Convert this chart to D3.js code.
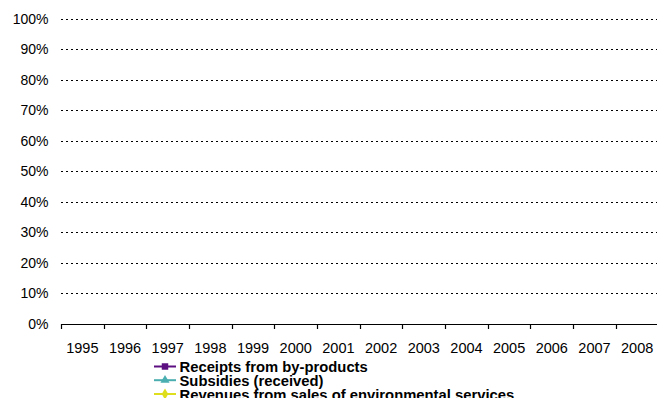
<!DOCTYPE html>
<html><head><meta charset="utf-8">
<script src="https://cdn.jsdelivr.net/npm/d3@7"></script>
<style>html,body{margin:0;padding:0;background:#fff;}svg{display:block;font-family:"Liberation Sans",Arial,sans-serif;}</style>
</head><body>
<svg id="c" width="657" height="398"></svg>
<script>
const years = ["1995","1996","1997","1998","1999","2000","2001","2002","2003","2004","2005","2006","2007","2008"];
const yTicks = [0,0.1,0.2,0.3,0.4,0.5,0.6,0.7,0.8,0.9,1.0];
const seriesNames = ["Receipts from by-products","Subsidies (received)","Revenues from sales of environmental services"];
const seriesColors = ["#5c0f80","#4aaeb0","#dede1e"];
const seriesMarkers = ["square","triangle","diamond"];
// No values are shown in the reference chart
const receipts = [null,null,null,null,null,null,null,null,null,null,null,null,null,null];
const subsidies = [null,null,null,null,null,null,null,null,null,null,null,null,null,null];
const revenues = [null,null,null,null,null,null,null,null,null,null,null,null,null,null];
const seriesValues = [receipts, subsidies, revenues];

(function(){
const svg = d3.select("#c");
const pL = 61, pR = 658.5, pT = 18.5, pB = 324;
const x = d3.scaleBand().domain(years).range([pL, pR]);
const y = d3.scaleLinear().domain([0,1]).range([pB, pT]);

// gridlines
svg.append("g").selectAll("line").data(yTicks.filter(d=>d>0)).join("line")
  .attr("x1", pL).attr("x2", 657)
  .attr("y1", d=>Math.round(y(d))+0.5).attr("y2", d=>Math.round(y(d))+0.5)
  .attr("stroke", "#000").attr("stroke-width", 1.2).attr("stroke-dasharray", "2,3");

// y labels
svg.append("g").selectAll("text").data(yTicks).join("text")
  .attr("x", 48.5).attr("y", d=>y(d)+5)
  .attr("text-anchor","end").attr("font-size", 14).attr("fill","#000")
  .text(d=>d3.format(".0%")(d));

// x axis
const xb = svg.append("g");
xb.append("line").attr("x1", pL).attr("x2", 657).attr("y1", pB+0.5).attr("y2", pB+0.5)
  .attr("stroke","#000").attr("stroke-width",1.2);
const bounds = years.map(d=>x(d));
xb.selectAll("line.t").data(bounds).join("line").attr("class","t")
  .attr("x1", d=>Math.round(d)+0.5).attr("x2", d=>Math.round(d)+0.5)
  .attr("y1", pB).attr("y2", pB+5).attr("stroke","#000").attr("stroke-width",1.2);
xb.selectAll("text").data(years).join("text")
  .attr("x", d=>x(d)+x.bandwidth()/2).attr("y", 352.5)
  .attr("text-anchor","middle").attr("font-size",14.5).attr("fill","#000").text(d=>d);

// series (no visible values)
const line = d3.line().defined(d=>d!=null).x((d,i)=>x(years[i])+x.bandwidth()/2).y(d=>y(d));
seriesValues.forEach((vals,k)=>{
  svg.append("path").datum(vals).attr("d", line).attr("fill","none").attr("stroke", seriesColors[k]).attr("stroke-width",2);
});

// legend
const symType = {square:d3.symbolSquare, triangle:d3.symbolTriangle, diamond:d3.symbolDiamond};
const leg = svg.append("g");
const legY = [366.5, 380.2, 394];
seriesNames.forEach((n,k)=>{
  const g = leg.append("g").attr("transform",`translate(165,${legY[k]})`);
  g.append("line").attr("x1",-11).attr("x2",11).attr("y1",0).attr("y2",0).attr("stroke",seriesColors[k]).attr("stroke-width",2);
  g.append("path").attr("d", d3.symbol().type(symType[seriesMarkers[k]]).size(k==0?42:36)()).attr("fill",seriesColors[k]);
  g.append("text").attr("x",14.5).attr("y",5.5).attr("font-size",14.8).attr("font-weight","bold").attr("fill","#000").text(n);
});
})();
</script>
</body></html>
